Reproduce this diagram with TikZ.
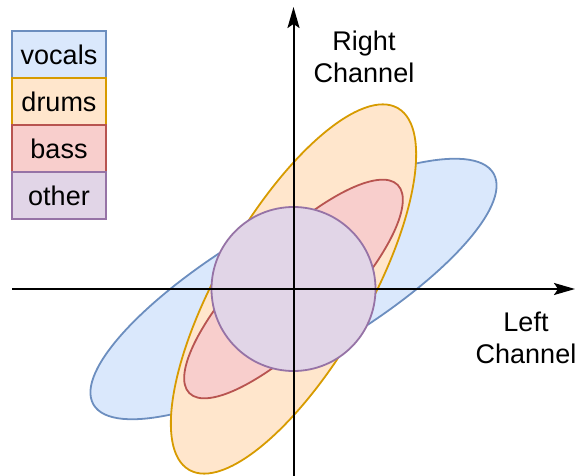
\documentclass[tikz,border=0pt]{standalone}
\usepackage{fontspec}
\setmainfont{Liberation Sans}
\usetikzlibrary{shapes.geometric,arrows.meta}

\definecolor{vocfill}{HTML}{DAE8FC}
\definecolor{vocline}{HTML}{6C8EBF}
\definecolor{drmfill}{HTML}{FFE6CC}
\definecolor{drmline}{HTML}{D79B00}
\definecolor{basfill}{HTML}{F8CECC}
\definecolor{basline}{HTML}{B85450}
\definecolor{othfill}{HTML}{E1D5E7}
\definecolor{othline}{HTML}{9673A6}

\begin{document}
\begin{tikzpicture}[x=0.5pt,y=-0.5pt,
	blob/.style={ellipse, inner sep=0, line width=0.9pt},
	legend/.style={rectangle, draw, line width=0.9pt, minimum width=47pt, minimum height=23.5pt, inner sep=0, font=\fontsize{13.5}{16}\selectfont},
	axislabel/.style={align=center, font=\fontsize{13.5}{16}\selectfont}]
	\useasboundingbox (0,0) rectangle (579,476);

	% sources, largest first
	\node [name=vocals,blob,draw=vocline,fill=vocfill,rotate=30,minimum width=231pt,minimum height=69.5pt] at (293.5,289) {};
	\node [name=drums,blob,draw=drmline,fill=drmfill,rotate=60,minimum width=208.8pt,minimum height=74.3pt] at (293.5,289) {};
	\node [name=bass,blob,draw=basline,fill=basfill,rotate=45,minimum width=147.3pt,minimum height=46.9pt] at (293.5,289) {};
	\node [name=other,blob,circle,draw=othline,fill=othfill,minimum size=82pt] at (293.5,289) {};

	% axes
	\coordinate (xstart) at (12,289);
	\coordinate (xend) at (575,289);
	\coordinate (ystart) at (293.5,476);
	\coordinate (yend) at (293.5,7);
	\draw [line width=1pt,-{Stealth[length=10.5pt,width=6pt,inset=2pt]}] (xstart) -- (xend);
	\draw [line width=1pt,-{Stealth[length=10.5pt,width=6pt,inset=2pt]}] (ystart) -- (yend);

	\node [name=rightlab,axislabel] at (364,57) {Right\\Channel};
	\node [name=leftlab,axislabel] at (526,338) {Left\\Channel};

	% legend
	\node [name=legvoc,legend,draw=vocline,fill=vocfill] at (59,54.7) {vocals};
	\node [name=legdrm,legend,draw=drmline,fill=drmfill] at (59,101.8) {drums};
	\node [name=legbas,legend,draw=basline,fill=basfill] at (59,148.8) {bass};
	\node [name=legoth,legend,draw=othline,fill=othfill] at (59,195.8) {other};

\end{tikzpicture}
\end{document}
